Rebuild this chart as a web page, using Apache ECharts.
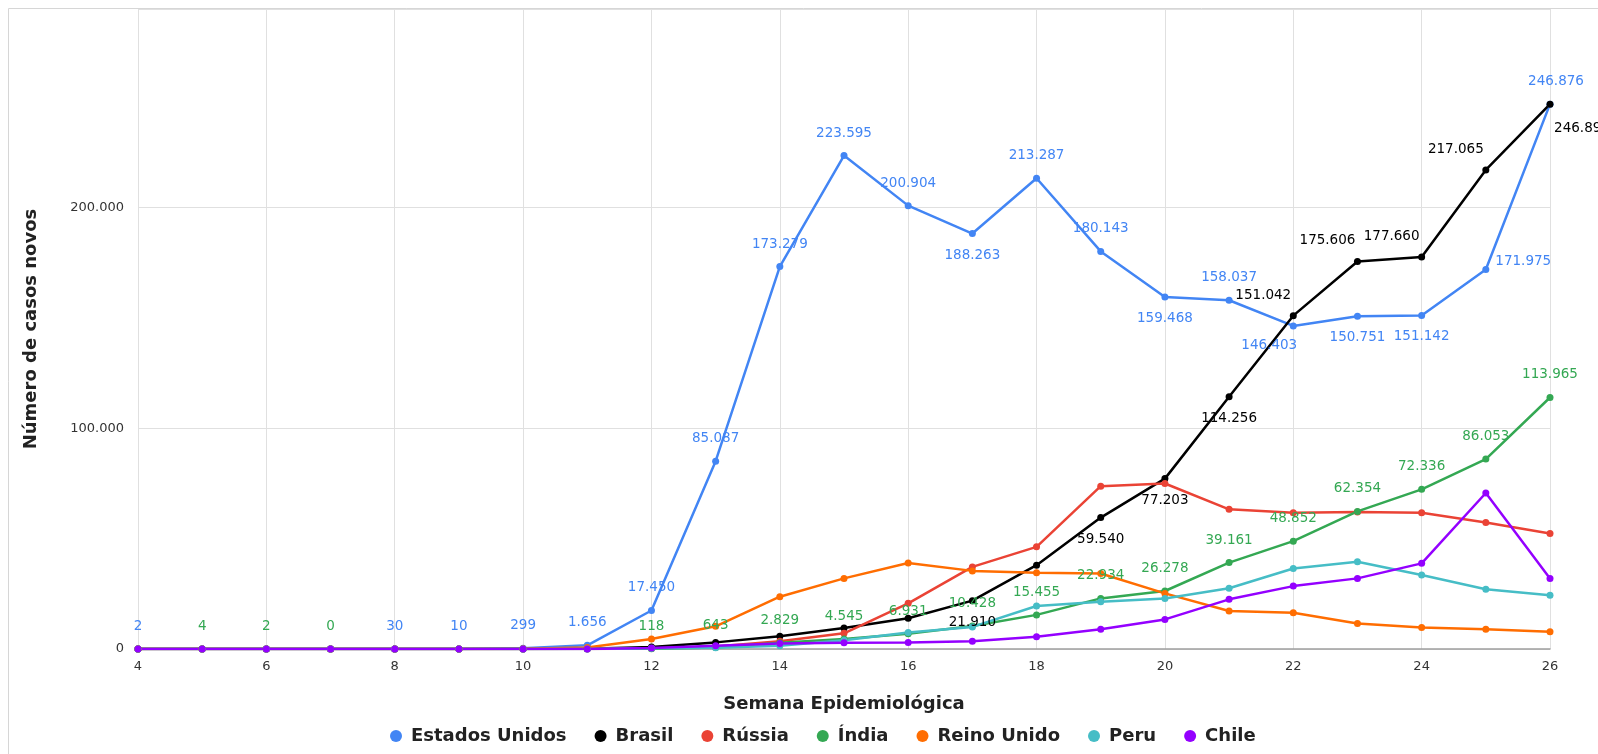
<!DOCTYPE html>
<html>
<head>
<meta charset="utf-8">
<script src="https://cdn.jsdelivr.net/npm/echarts@6/dist/echarts.min.js"></script>
<style>
html,body{margin:0;padding:0;background:#fff;}
#chart{width:1598px;height:754px;}
</style>
</head>
<body>
<div id="chart"></div>
<script>
const weeks = [4,5,6,7,8,9,10,11,12,13,14,15,16,17,18,19,20,21,22,23,24,25,26];
const seriesNames = ['Estados Unidos','Brasil','Rússia','Índia','Reino Unido','Peru','Chile'];
const estadosUnidos = [2,4,2,0,30,10,299,1656,17450,85087,173279,223595,200904,188263,213287,180143,159468,158037,146403,150751,151142,171975,246876];
const brasil = [0,0,0,0,0,1,12,150,900,3000,5800,9500,13900,21910,38000,59540,77203,114256,151042,175606,177660,217065,246896];
const russia = [0,2,0,0,0,0,10,40,250,1100,3500,7100,20700,37200,46300,73800,75000,63300,61700,62100,61700,57300,52300];
const india = [0,4,2,0,0,0,29,73,118,643,2829,4545,6931,10428,15455,22934,26278,39161,48852,62354,72336,86053,113965];
const reinoUnido = [0,2,6,1,0,15,150,700,4500,10300,23700,32000,39000,35400,34500,34200,25200,17200,16400,11600,9700,8900,7800];
const peru = [0,0,0,0,0,0,1,40,300,600,1500,4000,7500,10000,19500,21400,22900,27500,36500,39500,33500,27100,24400];
const chile = [0,0,0,0,0,0,5,50,400,1500,2500,2800,3000,3500,5500,8900,13400,22500,28500,32000,38800,70700,32000];
const yTicks = [0,100000,200000];

// which weeks carry a data label, per series
const labelWeeks = {
  'Estados Unidos': [4,8,9,10,11,12,13,14,15,16,17,18,19,20,21,22,23,24,25,26],
  'Brasil': [17,19,20,21,22,23,24,25,26],
  'Índia': [5,6,7,12,13,14,15,16,17,18,19,20,21,22,23,24,25,26]
};
const labelPlace = {
  'Estados Unidos': {17:'bottom',20:'bottom',22:'bottomleft',23:'bottom',24:'bottom',25:'right',26:'topright'},
  'Brasil': {17:'bottom',19:'bottom',20:'bottom',21:'bottom',22:'topleft',23:'topleft',24:'topleft',25:'topleft',26:'bottomright'},
  'Índia': {}
};
const colors = ['#4285f4','#000000','#ea4335','#34a853','#ff6d01','#46bdc6','#9400ff'];
const values = [estadosUnidos, brasil, russia, india, reinoUnido, peru, chile];
const FONT = 'DejaVu Sans';

function fmt(v){ return String(v).replace(/\B(?=(\d{3})+(?!\d))/g,'.'); }

function buildData(name, vals, color){
  const lw = labelWeeks[name] || [];
  const lp = labelPlace[name] || {};
  return weeks.map((w,i)=>{
    const item = {value:[w, vals[i]]};
    if (lw.indexOf(w) >= 0){
      const p = lp[w] || 'top';
      const lab = {show:true, color:color, fontFamily:FONT, fontSize:13.5, formatter: fmt(vals[i])};
      if (p === 'top'){ lab.position='top'; lab.distance=12; }
      else if (p === 'bottom'){ lab.position='bottom'; lab.distance=11; }
      else if (p === 'bottomleft'){ lab.position='bottom'; lab.distance=9; lab.offset=[-24,0]; }
      else if (p === 'right'){ lab.position='right'; lab.distance=6; lab.offset=[0,-8]; }
      else if (p === 'topright'){ lab.position='top'; lab.distance=12; lab.offset=[6,0]; }
      else if (p === 'topleft'){ lab.position='top'; lab.distance=10; lab.offset=[-30,0]; }
      else if (p === 'bottomright'){ lab.position='bottom'; lab.distance=10; lab.offset=[32,4]; }
      item.label = lab;
    }
    return item;
  });
}

const series = seriesNames.map((n,k)=>({
  name:n, type:'line', data: buildData(n, values[k], colors[k]),
  symbol:'circle', symbolSize:7, showSymbol:true,
  lineStyle:{width:2.5, color:colors[k]}, itemStyle:{color:colors[k]},
  label:{show:false}, emphasis:{disabled:true}, animation:false, z: 2
}));

const chart = echarts.init(document.getElementById('chart'), null, {renderer:'canvas'});
chart.setOption({
  animation:false,
  color: colors,
  textStyle:{fontFamily:FONT},
  graphic:[{type:'rect', shape:{x:8.5,y:8.5,width:1620,height:800}, style:{fill:'none', stroke:'#d6d6d6', lineWidth:1}, silent:true}],
  grid:{left:138, right:48, top:9, bottom:105},
  legend:{
    bottom:4, left:385, icon:'circle', itemWidth:12, itemHeight:12, itemGap:28,
    textStyle:{fontSize:18, fontWeight:'bold', color:'#222', fontFamily:FONT, padding:[0,0,0,4]},
    data: seriesNames
  },
  xAxis:{
    type:'value', min:4, max:26, interval:2,
    name:'Semana Epidemiológica', nameLocation:'middle', nameGap:46,
    nameTextStyle:{fontSize:18, fontWeight:'bold', color:'#222', fontFamily:FONT},
    axisLine:{show:true, lineStyle:{color:'#9e9e9e', width:1.5}},
    axisTick:{show:false},
    axisLabel:{color:'#333', fontSize:13, margin:11, fontFamily:FONT},
    splitLine:{show:true, lineStyle:{color:'#e0e0e0', width:1}}
  },
  yAxis:{
    type:'value', min:0, max:290000, interval:100000,
    name:'Número de casos novos', nameLocation:'middle', nameGap:98,
    nameTextStyle:{fontSize:18, fontWeight:'bold', color:'#222', fontFamily:FONT},
    axisLine:{show:false}, axisTick:{show:false},
    axisLabel:{color:'#333', fontSize:13, margin:14, showMaxLabel:false, fontFamily:FONT,
      formatter:(v)=> yTicks.indexOf(v)>=0 ? fmt(v) : ''},
    splitLine:{show:true, lineStyle:{color:'#e0e0e0', width:1}}
  },
  series: series
});
</script>
</body>
</html>
